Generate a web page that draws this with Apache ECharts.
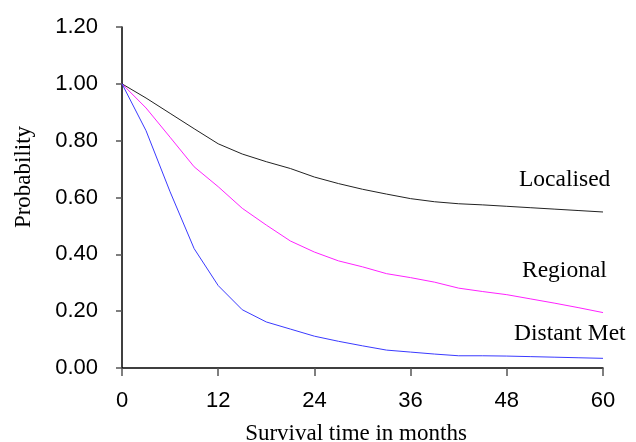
<!DOCTYPE html>
<html>
<head>
<meta charset="utf-8">
<script src="https://cdn.jsdelivr.net/npm/echarts@6/dist/echarts.min.js"></script>
<style>
  html, body { margin: 0; padding: 0; background: #fff; }
  #chart { width: 636px; height: 442px; }
</style>
</head>
<body>
<div id="chart"></div>
<script>
// months (every 3 months)
var months = [0, 3, 6, 9, 12, 15, 18, 21, 24, 27, 30, 33, 36, 39, 42, 45, 48, 51, 54, 57, 60];

var localised = [1.00, 0.95, 0.896, 0.842, 0.789, 0.753, 0.726, 0.702, 0.672, 0.649, 0.629,
                 0.612, 0.596, 0.585, 0.578, 0.574, 0.569, 0.564, 0.559, 0.554, 0.549];
var regional  = [1.00, 0.915, 0.812, 0.708, 0.638, 0.562, 0.503, 0.447, 0.408, 0.377, 0.356,
                 0.332, 0.318, 0.302, 0.281, 0.269, 0.258, 0.243, 0.228, 0.212, 0.195];
var distant   = [1.00, 0.835, 0.62, 0.42, 0.29, 0.205, 0.162, 0.137, 0.112, 0.094, 0.078,
                 0.063, 0.056, 0.049, 0.043, 0.043, 0.042, 0.040, 0.038, 0.036, 0.034];

var seriesNames = ['Localised', 'Regional', 'Distant Met'];

function pairs(vals) {
  return months.map(function(m, i) { return [m, vals[i]]; });
}

var myChart = echarts.init(document.getElementById('chart'), null, { renderer: 'canvas' });

var serif = '"Liberation Serif", "Times New Roman", serif';
var sans = '"Liberation Sans", Arial, sans-serif';

var option = {
  animation: false,
  backgroundColor: '#fff',
  grid: { left: 122, right: 33, top: 27, bottom: 74 },
  xAxis: {
    type: 'value',
    min: 0,
    max: 60,
    interval: 12,
    axisLine: { lineStyle: { color: '#000', width: 1.5 } },
    axisTick: { show: true, inside: false, length: 8, lineStyle: { color: '#555', width: 1.5 } },
    axisLabel: { color: '#000', fontFamily: sans, fontSize: 22, margin: 22 },
    splitLine: { show: false }
  },
  yAxis: {
    type: 'value',
    min: 0,
    max: 1.2,
    interval: 0.2,
    axisLine: { show: true, lineStyle: { color: '#000', width: 1.5 } },
    axisTick: { show: true, inside: false, length: 6, lineStyle: { color: '#555', width: 1.5 } },
    axisLabel: {
      color: '#000', fontFamily: sans, fontSize: 22, margin: 24,
      formatter: function(v) { return v.toFixed(2); }
    },
    splitLine: { show: false }
  },
  series: [
    {
      name: seriesNames[0], type: 'line', data: pairs(localised),
      symbol: 'none', smooth: false,
      lineStyle: { color: '#222', width: 1 }
    },
    {
      name: seriesNames[1], type: 'line', data: pairs(regional),
      symbol: 'none', smooth: false,
      lineStyle: { color: '#ff22ff', width: 1 }
    },
    {
      name: seriesNames[2], type: 'line', data: pairs(distant),
      symbol: 'none', smooth: false,
      lineStyle: { color: '#3a3aff', width: 1 }
    }
  ],
  graphic: [
    { type: 'text', x: 24, y: 177, rotation: Math.PI / 2,
      style: { text: 'Probability', font: '23px ' + serif, fill: '#000', align: 'center', verticalAlign: 'middle' } },
    { type: 'text', x: 356, y: 434,
      style: { text: 'Survival time in months', font: '23px ' + serif, fill: '#000', align: 'center', verticalAlign: 'middle' } },
    { type: 'text', x: 519, y: 180,
      style: { text: seriesNames[0], font: '23.5px ' + serif, fill: '#000', align: 'left', verticalAlign: 'middle' } },
    { type: 'text', x: 522, y: 271,
      style: { text: seriesNames[1], font: '23.5px ' + serif, fill: '#000', align: 'left', verticalAlign: 'middle' } },
    { type: 'text', x: 514, y: 334,
      style: { text: seriesNames[2], font: '23.5px ' + serif, fill: '#000', align: 'left', verticalAlign: 'middle' } }
  ]
};

myChart.setOption(option);
window.addEventListener('resize', function() {
  myChart.resize();
});
</script>
</body>
</html>
